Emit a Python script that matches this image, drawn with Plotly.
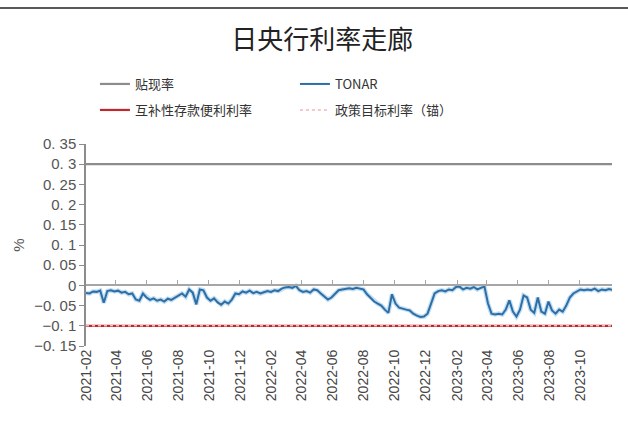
import pandas as pd
import plotly.graph_objects as go

# ---- data ----
tonar = [
    -0.019, -0.020, -0.015, -0.016, -0.013, -0.043, -0.014, -0.012, -0.015, -0.013,
    -0.018, -0.016, -0.022, -0.020, -0.035, -0.038, -0.020, -0.030, -0.036, -0.032,
    -0.038, -0.035, -0.040, -0.033, -0.036, -0.030, -0.024, -0.020, -0.028, -0.010,
    -0.018, -0.047, -0.010, -0.012, -0.030, -0.038, -0.032, -0.042, -0.048, -0.040,
    -0.045, -0.035, -0.020, -0.022, -0.015, -0.018, -0.013, -0.019, -0.016, -0.020,
    -0.017, -0.014, -0.016, -0.012, -0.014, -0.008, -0.005, -0.004, -0.006, -0.001,
    -0.012, -0.016, -0.014, -0.018, -0.010, -0.012, -0.020, -0.028, -0.035, -0.030,
    -0.022, -0.012, -0.010, -0.008, -0.007, -0.009, -0.006, -0.008, -0.010, -0.022,
    -0.030, -0.040, -0.045, -0.050, -0.060, -0.068, -0.022, -0.045, -0.055, -0.058,
    -0.060, -0.062, -0.070, -0.075, -0.078, -0.077, -0.070, -0.045, -0.020, -0.014,
    -0.012, -0.015, -0.010, -0.012, -0.004, -0.003, -0.010, -0.006, -0.008, -0.004,
    -0.010, -0.006, -0.003, -0.045, -0.070, -0.072, -0.070, -0.072, -0.060, -0.037,
    -0.065, -0.077, -0.060, -0.025, -0.030, -0.060, -0.068, -0.030, -0.065, -0.070,
    -0.040, -0.062, -0.070, -0.060, -0.065, -0.050, -0.030, -0.020, -0.015, -0.010,
    -0.012, -0.010, -0.012, -0.008, -0.014, -0.010, -0.012, -0.009, -0.011,
]
start_date = "2021-02-01"
end_date = "2023-12-03"
dates = pd.date_range(start_date, periods=len(tonar), freq="7D")

discount_rate = 0.30          # 贴现率
complementary_rate = -0.10    # 互补性存款便利利率
policy_rate = -0.10           # 政策目标利率（锚）

x_tick_labels = ["2021-02", "2021-04", "2021-06", "2021-08", "2021-10", "2021-12",
                 "2022-02", "2022-04", "2022-06", "2022-08", "2022-10", "2022-12",
                 "2023-02", "2023-04", "2023-06", "2023-08", "2023-10"]
y_ticks = [0.35, 0.3, 0.25, 0.2, 0.15, 0.1, 0.05, 0, -0.05, -0.1, -0.15]
y_ticktext = ["0. 35", "0. 3", "0. 25", "0. 2", "0. 15", "0. 1", "0. 05", "0",
              "−0. 05", "−0. 1", "−0. 15"]

x_tickvals = [pd.Timestamp(t + "-01") for t in x_tick_labels]
x_range = [pd.Timestamp(start_date), pd.Timestamp(end_date)]
edge = x_range

fig = go.Figure()
fig.add_trace(go.Scatter(x=edge, y=[discount_rate] * 2, mode="lines", name="贴现率",
                         legend="legend",
                         line=dict(color="#8c8c8c", width=2.2)))
fig.add_trace(go.Scatter(x=dates, y=tonar, mode="lines", showlegend=False,
                         hoverinfo="skip",
                         line=dict(color="rgba(150,200,235,0.6)", width=4.5)))
fig.add_trace(go.Scatter(x=dates, y=tonar, mode="lines", name="TONAR",
                         legend="legend",
                         line=dict(color="#2f6ea5", width=2.0)))
fig.add_trace(go.Scatter(x=edge, y=[complementary_rate] * 2, mode="lines",
                         name="互补性存款便利利率", legend="legend2",
                         line=dict(color="#c0282d", width=2.2)))
fig.add_trace(go.Scatter(x=edge, y=[policy_rate] * 2, mode="lines",
                         name="政策目标利率（锚）", legend="legend2",
                         line=dict(color="#f2b8b8", width=1.6, dash="dot")))
# dummy trace for zero-line axis
fig.add_trace(go.Scatter(x=edge, y=[None, None], xaxis="x2", showlegend=False,
                         hoverinfo="skip"))

legend_common = dict(orientation="h", x=0.017, xanchor="left", yanchor="middle",
                     entrywidth=155, entrywidthmode="pixels",
                     font=dict(family="Noto Sans CJK SC", size=13, color="#333"),
                     bgcolor="rgba(0,0,0,0)")

fig.update_layout(
    width=628, height=446,
    paper_bgcolor="white", plot_bgcolor="white",
    margin=dict(l=86, r=16, t=144, b=100, autoexpand=False),
    font=dict(family="Liberation Sans, Arial, sans-serif", color="#444"),
    title=dict(text="日央行利率走廊", x=0.513, xanchor="center", y=1 - 40 / 446,
               yanchor="middle", yref="container",
               font=dict(family="Noto Sans CJK SC", size=26, color="#222")),
    showlegend=True,
    legend=dict(legend_common, y=1 + 60 / 202),
    legend2=dict(legend_common, y=1 + 34 / 202),
    xaxis=dict(type="date", range=x_range, tickvals=x_tickvals, ticktext=x_tick_labels,
               tickangle=-90, showgrid=False, zeroline=False,
               showline=False, ticks="", automargin=False,
               tickfont=dict(size=14, color="#444")),
    xaxis2=dict(type="date", range=x_range, overlaying="x", anchor="free",
                position=0.3, side="bottom", showline=True, linecolor="#a6a6a6",
                linewidth=1.5, ticks="inside", ticklen=5, tickcolor="#a6a6a6",
                tickvals=x_tickvals, showticklabels=False,
                automargin=False, showgrid=False, zeroline=False),
    yaxis=dict(range=[-0.15, 0.35], tickvals=y_ticks, ticktext=y_ticktext,
               showgrid=False, zeroline=False, showline=True, linecolor="#8c8c8c",
               linewidth=1.5, ticks="outside", ticklen=5, tickcolor="#8c8c8c",
               automargin=False,
               tickfont=dict(size=15, color="#555"),
               title=dict(text="%", font=dict(size=15, color="#555"), standoff=6)),
    shapes=[dict(type="line", xref="paper", yref="paper", x0=-86 / 526, x1=1 + 16 / 526,
                 y0=1 + 136 / 202, y1=1 + 136 / 202, line=dict(color="#222", width=1.5))],
)

fig.write_html("out.html", config={"displayModeBar": False},
               post_script="document.body.style.margin='0px';")
